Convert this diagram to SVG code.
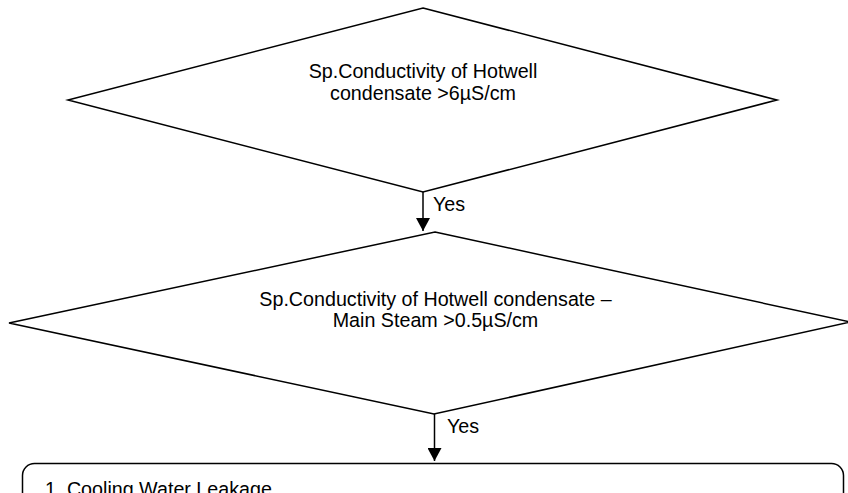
<svg xmlns="http://www.w3.org/2000/svg" width="848" height="493" viewBox="0 0 848 493">
<defs>
<style>
.shape{fill:#ffffff;stroke:#000000;stroke-width:1.5;stroke-linejoin:miter}
.conn{fill:none;stroke:#000000;stroke-width:1.5}
.lbl{font-family:"Liberation Sans",Arial,sans-serif;font-size:19.7px;fill:#000000}
.mid{text-anchor:middle}
</style>
<marker id="arr" viewBox="0 0 13 14" refX="13" refY="7" markerWidth="13" markerHeight="14" markerUnits="userSpaceOnUse" orient="auto">
<path d="M0,0 L13,7 L0,14 Z" fill="#000000"/>
</marker>
</defs>
<rect width="848" height="493" fill="#ffffff"/>
<g id="decision1">
<polygon class="shape" points="423,8 777,100 423,192 68,100"/>
<text class="lbl mid" x="423" y="78">Sp.Conductivity of Hotwell</text>
<text class="lbl mid" x="423" y="100">condensate &gt;6µS/cm</text>
</g>
<g id="decision2">
<polygon class="shape" points="435,232 850,322 434,414 9,323"/>
<text class="lbl mid" x="435.5" y="306">Sp.Conductivity of Hotwell condensate –</text>
<text class="lbl mid" x="435.5" y="327">Main Steam &gt;0.5µS/cm</text>
</g>
<g id="process1">
<rect class="shape" x="22.5" y="463.5" width="821" height="90" rx="12" ry="12"/>
<text class="lbl" x="45" y="496">1. Cooling Water Leakage</text>
</g>
<g id="connectors">
<line class="conn" x1="423" y1="192" x2="423" y2="231" marker-end="url(#arr)"/>
<text class="lbl" x="433" y="211">Yes</text>
<line class="conn" x1="434.5" y1="414" x2="434.5" y2="461" marker-end="url(#arr)"/>
<text class="lbl" x="447" y="433">Yes</text>
</g>
</svg>
